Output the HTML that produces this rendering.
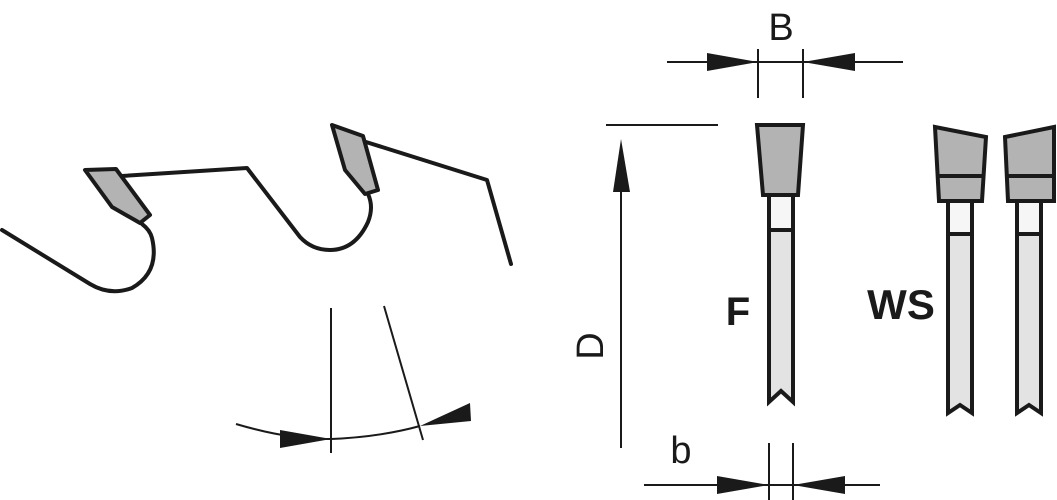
<!DOCTYPE html>
<html><head><style>
html,body{margin:0;padding:0;background:#fff;width:1057px;height:500px;overflow:hidden}
svg{display:block}
</style></head><body>
<svg width="1057" height="500" viewBox="0 0 1057 500" xmlns="http://www.w3.org/2000/svg">
<g fill="none" stroke="#1a1a1a" stroke-width="4" stroke-linejoin="round" stroke-linecap="round">
<path d="M2,230 L90,284 Q110,296 132,288 Q160,272 152,238 Q150,230 142,224"/>
<path d="M122,176 L247,168 L300,237 Q312,250 330,250 Q355,250 368,222 Q374,207 368,194"/>
<path d="M366,142 L487,180 L511,264"/>
<polygon points="85,170 116,169 150,215 140,223 112,207" fill="#b3b3b3"/>
<polygon points="332,125 363,136 378,190 365,194 345,170" fill="#b3b3b3"/>
</g>
<g stroke="#1a1a1a" stroke-width="2" fill="none">
<line x1="331" y1="308" x2="331" y2="453"/>
<line x1="384" y1="306" x2="423" y2="440"/>
<path d="M236,424 Q290,440 331,439 Q380,437 420,426"/>
<line x1="667" y1="62" x2="903" y2="62"/>
<line x1="758" y1="49" x2="758" y2="98"/>
<line x1="803" y1="49" x2="803" y2="98"/>
<line x1="606" y1="125" x2="718" y2="125"/>
<line x1="621" y1="180" x2="621" y2="448"/>
<line x1="644" y1="485" x2="880" y2="485"/>
<line x1="769" y1="443" x2="769" y2="500"/>
<line x1="793" y1="443" x2="793" y2="500"/>
</g>
<g fill="#1a1a1a">
<polygon points="280,430 331,439 280,448"/>
<polygon points="420,426 470,403 471,421"/>
<polygon points="707,53 758,62 707,71"/>
<polygon points="855,53 803,62 855,71"/>
<polygon points="613,192 621,139 630,192"/>
<polygon points="717,476 769,485 717,494"/>
<polygon points="845,476 793,485 845,494"/>
</g>
<g stroke="#1a1a1a" stroke-width="4" stroke-linejoin="miter">
<path d="M769,195 L769,402 L781,391 L793,402 L793,195 Z" fill="#e3e3e3"/>
<rect x="769" y="195" width="24" height="35" fill="#f6f6f6"/>
<polygon points="757,125 803,125 798,195 763,195" fill="#b3b3b3"/>

<path d="M948,201 L948,413 L960,405 L972,413 L972,201 Z" fill="#e3e3e3"/>
<rect x="948" y="201" width="24" height="33" fill="#f6f6f6"/>
<polygon points="935,127 986,137 982,201 939,201" fill="#b3b3b3"/>
<line x1="937" y1="176" x2="984" y2="176"/>

<path d="M1017,201 L1017,413 L1029,405 L1041,413 L1041,201 Z" fill="#e3e3e3"/>
<rect x="1017" y="201" width="24" height="33" fill="#f6f6f6"/>
<polygon points="1005,137 1054,127 1054,201 1008,201" fill="#b3b3b3"/>
<line x1="1006" y1="176" x2="1055" y2="176"/>
</g>
<g font-family="Liberation Sans, sans-serif" fill="#1a1a1a">
<text x="781" y="40" font-size="38" text-anchor="middle">B</text>
<text x="681" y="463" font-size="38" text-anchor="middle">b</text>
<text transform="translate(603,346) rotate(-90)" font-size="38" text-anchor="middle">D</text>
<text x="738" y="325" font-size="40" font-weight="bold" text-anchor="middle">F</text>
<text x="901" y="319" font-size="42" font-weight="bold" text-anchor="middle">WS</text>
</g>
</svg>
</body></html>
